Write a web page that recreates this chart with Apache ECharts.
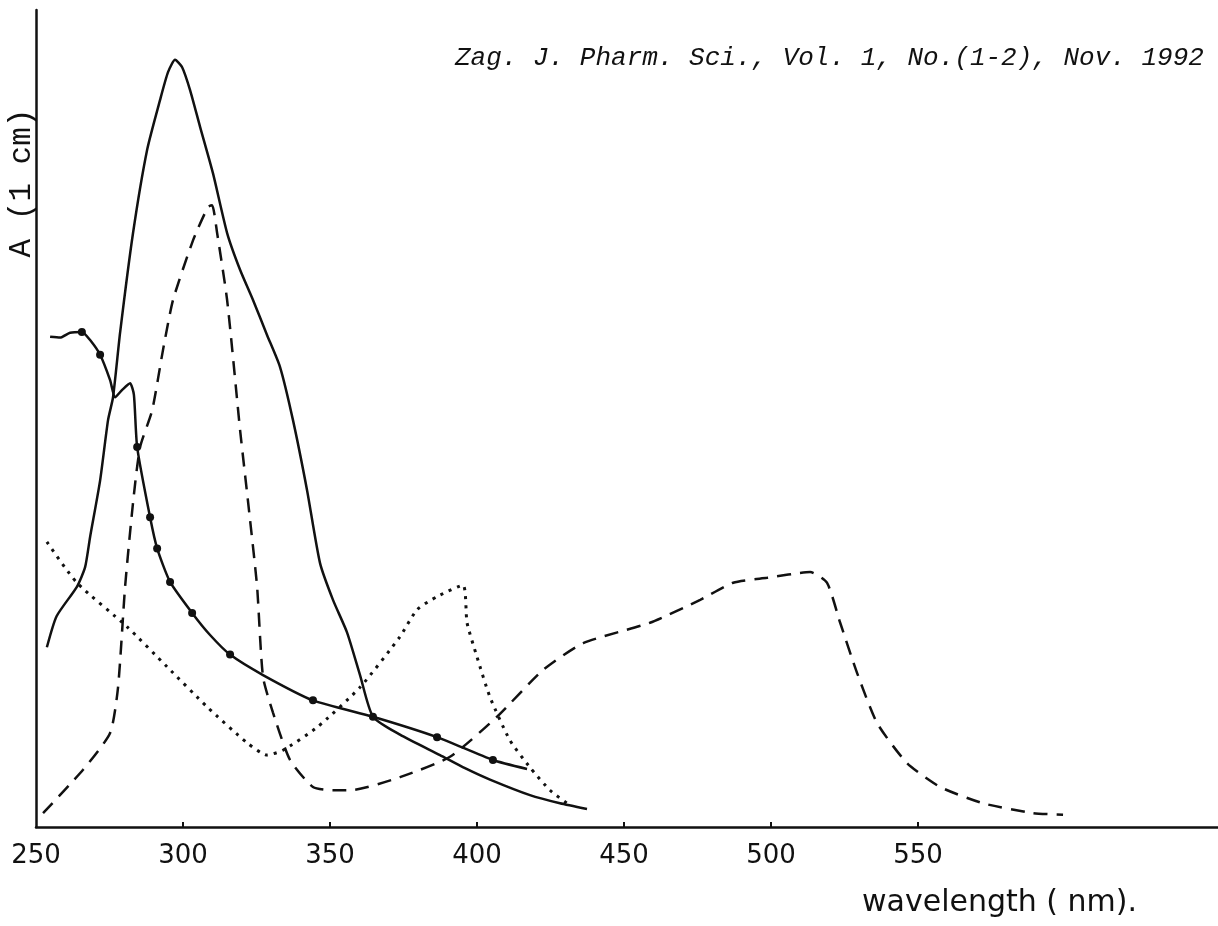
<!DOCTYPE html>
<html>
<head>
<meta charset="utf-8">
<script src="https://cdn.jsdelivr.net/npm/echarts@6/dist/echarts.min.js"></script>
<style>
  html, body { margin: 0; padding: 0; background: #fff; }
  #chart { width: 1218px; height: 926px; }
</style>
</head>
<body>
<div id="chart"></div>
<script>
// 波长刻度
const xTicks = [250, 300, 350, 400, 450, 500, 550];

// 实线 (主峰 ~297 nm)
const solidPeak = [
  [253.7, 0.220], [257.0, 0.258], [263.9, 0.294], [266.7, 0.318], [268.4, 0.355],
  [271.8, 0.424], [274.5, 0.498], [276.2, 0.526], [278.6, 0.605], [283.0, 0.727],
  [287.8, 0.829], [292.2, 0.890], [294.9, 0.924], [297.3, 0.939], [299.7, 0.930],
  [302.4, 0.902], [305.8, 0.857], [310.2, 0.800], [315.0, 0.727], [319.4, 0.682],
  [323.8, 0.645], [328.6, 0.602], [333.0, 0.563], [337.4, 0.498], [342.2, 0.412],
  [346.6, 0.323], [351.0, 0.278], [355.8, 0.238], [360.2, 0.186], [364.6, 0.135],
  [373.8, 0.113], [387.4, 0.088], [395.9, 0.072], [404.4, 0.058], [418.0, 0.039],
  [428.2, 0.029], [437.4, 0.022]
];

// 带点实线
const solidDots = [
  [254.8, 0.600], [258.2, 0.599], [261.6, 0.605], [265.6, 0.606], [268.4, 0.596],
  [271.8, 0.578], [275.2, 0.547], [276.9, 0.526], [279.3, 0.535], [282.0, 0.543],
  [283.3, 0.529], [284.4, 0.465], [288.8, 0.379], [291.2, 0.341], [295.6, 0.300],
  [303.1, 0.262], [309.2, 0.235], [316.0, 0.211], [327.2, 0.186], [344.2, 0.155],
  [364.6, 0.135], [386.4, 0.110], [405.4, 0.082], [417.0, 0.071]
];
const dotMarks = [265.6, 271.8, 284.4, 288.8, 291.2, 295.6, 303.1, 316.0, 344.2, 364.6, 386.4, 405.4];

// 虚线 (峰 ~310 nm 与 ~510 nm)
const dashed = [
  [252.4, 0.017], [266.0, 0.070], [275.2, 0.115], [277.9, 0.171], [280.3, 0.294],
  [283.0, 0.397], [285.4, 0.465], [289.5, 0.510], [293.2, 0.584], [296.6, 0.645],
  [303.4, 0.718], [308.5, 0.759], [309.9, 0.761], [311.6, 0.727], [315.0, 0.645],
  [318.4, 0.523], [319.4, 0.486], [322.8, 0.376], [325.2, 0.294], [327.2, 0.184],
  [330.6, 0.140], [336.4, 0.082], [344.2, 0.049], [351.0, 0.045], [356.8, 0.045],
  [373.8, 0.061], [390.8, 0.086], [406.8, 0.135], [422.4, 0.192], [436.1, 0.225],
  [458.8, 0.250], [475.9, 0.278], [487.1, 0.299], [498.6, 0.305], [513.3, 0.312],
  [519.0, 0.299], [523.5, 0.250], [529.3, 0.188], [536.1, 0.127], [546.3, 0.078],
  [557.5, 0.049], [572.1, 0.029], [589.1, 0.017], [599.3, 0.015]
];

// 点线 (峰 ~395 nm)
const dotted = [
  [253.7, 0.349], [263.9, 0.299], [281.0, 0.245], [294.6, 0.196], [308.2, 0.147],
  [321.8, 0.103], [328.6, 0.088], [334.0, 0.094], [345.6, 0.122], [360.2, 0.171],
  [373.8, 0.233], [379.6, 0.266], [386.4, 0.282], [395.2, 0.296], [396.6, 0.250],
  [400.0, 0.208], [404.4, 0.159], [411.2, 0.106], [418.0, 0.073], [424.8, 0.045],
  [430.6, 0.029]
];

const ink = '#111';

const chart = echarts.init(document.getElementById('chart'));
chart.setOption({
  animation: false,
  backgroundColor: '#fff',
  grid: { left: 36, right: 0, top: 10, bottom: 99 },
  xAxis: {
    type: 'value',
    min: 250,
    max: 652,
    interval: 50,
    axisLine: { lineStyle: { color: ink, width: 2.5 } },
    axisTick: {
      show: true, inside: true, length: 5, customValues: xTicks.slice(1),
      lineStyle: { color: ink, width: 2 }
    },
    splitLine: { show: false },
    axisLabel: {
      margin: 16,
      color: ink,
      fontSize: 26,
      fontFamily: 'DejaVu Sans',
      customValues: xTicks,
      formatter: v => String(v)
    }
  },
  yAxis: {
    type: 'value',
    min: 0,
    max: 1,
    axisLine: { show: true, lineStyle: { color: ink, width: 2.5 } },
    axisTick: { show: false },
    axisLabel: { show: false },
    splitLine: { show: false }
  },
  graphic: [
    {
      type: 'text', left: 455, top: 45,
      style: {
        text: 'Zag. J. Pharm. Sci., Vol. 1, No.(1-2), Nov. 1992',
        font: 'italic 26px "Liberation Mono"', fill: ink
      }
    },
    {
      type: 'text', x: 22, y: 183, rotation: Math.PI / 2,
      style: {
        text: 'A (1 cm)', font: '31px "Liberation Mono"', fill: ink,
        align: 'center', verticalAlign: 'middle'
      }
    },
    {
      type: 'text', left: 862, top: 888,
      style: { text: 'wavelength ( nm).', font: '30px "DejaVu Sans"', fill: ink }
    }
  ],
  series: [
    {
      type: 'line', data: solidPeak, symbol: 'none', smooth: 0.2,
      lineStyle: { color: ink, width: 2.5 }
    },
    {
      type: 'line', smooth: 0.2,
      data: solidDots.map(p => ({
        value: p,
        symbol: dotMarks.indexOf(p[0]) >= 0 ? 'circle' : 'none'
      })),
      symbolSize: 8,
      itemStyle: { color: ink },
      lineStyle: { color: ink, width: 2.5 }
    },
    {
      type: 'line', data: dashed, symbol: 'none', smooth: 0.2,
      lineStyle: { color: ink, width: 2.5, type: [14, 9] }
    },
    {
      type: 'line', data: dotted, symbol: 'none', smooth: 0.2,
      lineStyle: { color: ink, width: 3, type: [3, 6] }
    }
  ]
});
</script>
</body>
</html>
